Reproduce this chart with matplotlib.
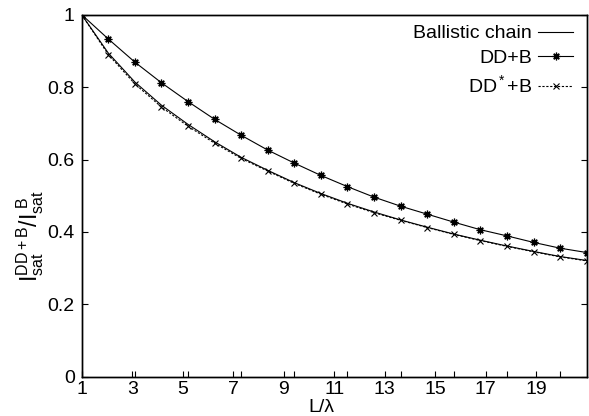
import matplotlib
matplotlib.use("Agg")
import matplotlib.pyplot as plt
from matplotlib.ticker import FuncFormatter

plt.rcParams['font.family'] = ['Liberation Sans', 'DejaVu Sans']
plt.rcParams['mathtext.fontset'] = 'custom'
plt.rcParams['mathtext.rm'] = 'Liberation Sans'
plt.rcParams['mathtext.it'] = 'Liberation Sans'

# Data
L_over_lambda = list(range(1, 21))
ballistic = [1.0, 0.894, 0.814, 0.750, 0.697, 0.649, 0.606, 0.570, 0.536, 0.506,
             0.479, 0.455, 0.433, 0.413, 0.394, 0.377, 0.361, 0.346, 0.332, 0.321]
dd_b = [1.0, 0.933, 0.869, 0.812, 0.760, 0.711, 0.667, 0.626, 0.590, 0.556,
        0.525, 0.496, 0.471, 0.449, 0.427, 0.406, 0.389, 0.371, 0.355, 0.343]
dd_star_b = [1.0, 0.890, 0.809, 0.745, 0.692, 0.645, 0.603, 0.568, 0.534, 0.504,
             0.477, 0.453, 0.432, 0.412, 0.393, 0.376, 0.360, 0.345, 0.331, 0.320]
x_ticks_top = [1, 3, 5, 7, 9, 11, 13, 15, 17, 19]
x_tick_labels = ['1', '3', '5', '7', '9', '11', '13', '15', '17', '19']
y_ticks = [0, 0.2, 0.4, 0.6, 0.8, 1.0]

FS = 14
fig = plt.figure(figsize=(5.89, 4.16), dpi=100)
ax = fig.add_axes([81.7/589, 1-376.7/416, 505/589, 362/416])

lw = 0.8
ax.plot(L_over_lambda, ballistic, color='black', lw=lw, ls='-', label='Ballistic chain')
ax.plot(L_over_lambda, dd_b, color='black', lw=lw, ls='-', marker=(8, 2, 0),
        markersize=5.5, markeredgewidth=0.9, label='DD+B')
ax.plot(L_over_lambda, dd_star_b, color='black', lw=lw, ls=(0, (2, 1.5)), marker='x',
        markersize=5, markeredgewidth=0.8, label='DD$^*$+B')

ax.set_xlim(1, 20)
ax.set_ylim(0, 1)
ax.set_yticks(y_ticks)
ax.yaxis.set_major_formatter(FuncFormatter(lambda v, p: '%g' % v))
ax.tick_params(axis='y', which='both', direction='in', left=True, right=True,
               length=4.5, width=0.8, labelsize=FS, pad=5)

# top ticks follow the data scale
ax.set_xticks(x_ticks_top)
ax.tick_params(axis='x', which='both', direction='in', top=True, bottom=False,
               labelbottom=False, length=4.5, width=0.8)

# bottom tick labels on their own scale
axb = ax.twiny()
axb.set_xlim(1, 21)
axb.xaxis.set_ticks_position('bottom')
axb.xaxis.set_label_position('bottom')
axb.set_xticks(x_ticks_top)
axb.set_xticklabels(x_tick_labels)
axb.tick_params(axis='x', direction='in', top=False, bottom=True, length=4.5,
                width=0.8, labelsize=FS, pad=3)
axb.set_xlabel('L/\u03bb', fontsize=FS, labelpad=0)
axb.xaxis.set_label_coords((321.7-81.7)/505, -0.062)

for a in (ax, axb):
    for s in a.spines.values():
        s.set_linewidth(1.0)

ax.set_ylabel(r'$\mathrm{I_{sat}^{DD+B}/I_{sat}^{\ B}}$', fontsize=16.5)
ax.yaxis.set_label_coords(-0.07, 0.39)

leg = ax.legend(loc='upper right', bbox_to_anchor=(0.973, 0.972), frameon=False,
                markerfirst=False, fontsize=FS, handlelength=1.8, handletextpad=0.3,
                labelspacing=0.37, borderpad=0, borderaxespad=0)

fig.savefig('out.png', dpi=100)
